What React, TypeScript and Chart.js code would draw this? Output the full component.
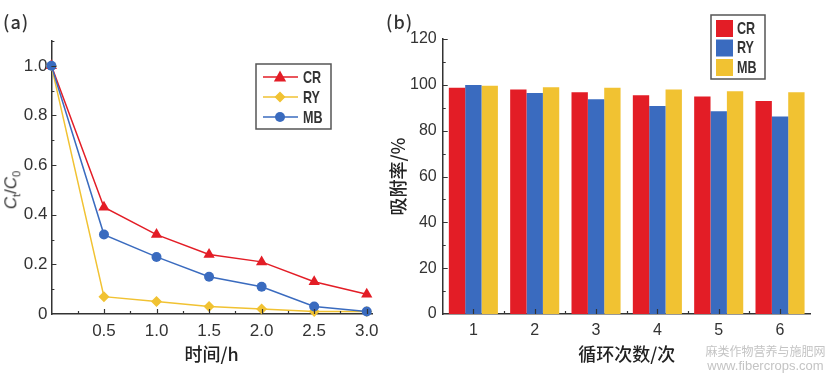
import React, { useEffect, useRef } from 'react';
import { Chart, registerables } from 'chart.js';
Chart.register(...registerables);

// ---------- data ----------
const timeH = [0, 0.5, 1.0, 1.5, 2.0, 2.5, 3.0];
const crRatio = [1.0, 0.43, 0.32, 0.24, 0.21, 0.13, 0.08];
const ryRatio = [1.0, 0.07, 0.05, 0.03, 0.02, 0.01, 0.01];
const mbRatio = [1.0, 0.32, 0.23, 0.15, 0.11, 0.03, 0.01];
const xTicksA = [0.5, 1.0, 1.5, 2.0, 2.5, 3.0];
const yTicksA = [0, 0.2, 0.4, 0.6, 0.8, 1.0];

const cycles = ['1', '2', '3', '4', '5', '6'];
const crRate = [98.7, 98.0, 96.8, 95.5, 94.9, 93.0];
const ryRate = [99.9, 96.4, 93.7, 90.8, 88.5, 86.2];
const mbRate = [99.6, 99.0, 98.7, 98.0, 97.2, 96.8];
const yTicksB = [0, 20, 40, 60, 80, 100, 120];
const seriesNames = ['CR', 'RY', 'MB'];

// ---------- style ----------
const RED = '#e31d26';
const BLUE = '#3a6bbf';
const YELLOW = '#f1c232';
const INK = '#333333';
const LATIN = '"Liberation Sans", Arial, sans-serif';
const CJK = '"Noto Sans CJK SC", "Noto Sans", sans-serif';
const seriesColors = [RED, YELLOW, BLUE];
const barColors = [RED, BLUE, YELLOW];

function drawMarker(ctx: CanvasRenderingContext2D, style: string, x: number, y: number, r: number) {
  ctx.beginPath();
  if (style === 'triangle') {
    ctx.moveTo(x, y - r);
    ctx.lineTo(x + r * 0.95, y + r * 0.7);
    ctx.lineTo(x - r * 0.95, y + r * 0.7);
    ctx.closePath();
  } else if (style === 'rectRot') {
    ctx.moveTo(x, y - r);
    ctx.lineTo(x + r, y);
    ctx.lineTo(x, y + r);
    ctx.lineTo(x - r, y);
    ctx.closePath();
  } else {
    ctx.arc(x, y, r, 0, Math.PI * 2);
  }
  ctx.fill();
}

function drawNarrowText(ctx: CanvasRenderingContext2D, text: string, x: number, y: number) {
  ctx.save();
  ctx.translate(x, y);
  ctx.scale(0.74, 1);
  ctx.fillStyle = INK;
  ctx.font = 'bold 17px ' + LATIN;
  ctx.textBaseline = 'middle';
  ctx.textAlign = 'left';
  ctx.fillText(text, 0, 0);
  ctx.restore();
}

const ticksPluginA = {
  id: 'ticksA',
  afterDatasetsDraw(chart: any) {
    const { ctx, chartArea: ca, scales } = chart;
    const x = scales.x;
    const y = scales.y;
    ctx.save();
    ctx.strokeStyle = INK;
    ctx.lineWidth = 1.2;
    ctx.beginPath();
    for (let i = 1; i <= 11; i++) {
      const py = Math.round(y.getPixelForValue(i / 10)) + 0.5;
      const len = i % 2 === 0 ? 5 : 3;
      ctx.moveTo(ca.left, py);
      ctx.lineTo(ca.left + len, py);
    }
    for (let i = 1; i <= 12; i++) {
      const px = Math.round(x.getPixelForValue(i * 0.25)) + 0.5;
      const len = i % 2 === 0 ? 5 : 3;
      ctx.moveTo(px, ca.bottom);
      ctx.lineTo(px, ca.bottom - len);
    }
    ctx.stroke();

    // legend
    const bx = 256, by = 64, bw = 75, bh = 65;
    ctx.strokeStyle = '#555555';
    ctx.lineWidth = 1.5;
    ctx.strokeRect(bx, by, bw, bh);
    const styles = ['triangle', 'rectRot', 'circle'];
    const radii = [6.5, 5.5, 5];
    seriesNames.forEach((name, i) => {
      const cy = by + 13 + i * 20;
      ctx.strokeStyle = seriesColors[i];
      ctx.fillStyle = seriesColors[i];
      ctx.lineWidth = 1.5;
      ctx.beginPath();
      ctx.moveTo(bx + 7, cy);
      ctx.lineTo(bx + 42, cy);
      ctx.stroke();
      drawMarker(ctx, styles[i], bx + 24, cy, radii[i]);
      drawNarrowText(ctx, name, bx + 47, cy + 1);
    });
    ctx.restore();
  },
};

const ticksPluginB = {
  id: 'ticksB',
  afterDatasetsDraw(chart: any) {
    const { ctx, chartArea: ca, scales } = chart;
    const x = scales.x;
    const y = scales.y;
    ctx.save();
    ctx.strokeStyle = INK;
    ctx.lineWidth = 1.2;
    ctx.beginPath();
    for (let v = 10; v <= 120; v += 10) {
      const py = Math.round(y.getPixelForValue(v)) + 0.5;
      const len = v % 20 === 0 ? 5 : 3;
      ctx.moveTo(ca.left, py);
      ctx.lineTo(ca.left + len, py);
    }
    cycles.forEach((_, i) => {
      const px = Math.round(x.getPixelForValue(i)) + 0.5;
      ctx.moveTo(px, ca.bottom);
      ctx.lineTo(px, ca.bottom - 5);
      if (i > 0) {
        const pb = Math.round((x.getPixelForValue(i) + x.getPixelForValue(i - 1)) / 2) + 0.5;
        ctx.moveTo(pb, ca.bottom);
        ctx.lineTo(pb, ca.bottom - 3);
      }
    });
    ctx.stroke();

    // legend
    const off = chart.canvas.offsetLeft;
    const bx = 711 - off, by = 15, bw = 54, bh = 64;
    ctx.strokeStyle = '#555555';
    ctx.lineWidth = 1.5;
    ctx.strokeRect(bx, by, bw, bh);
    seriesNames.forEach((name, i) => {
      const top = by + 5 + i * 19.5;
      ctx.fillStyle = barColors[i];
      ctx.fillRect(bx + 5, top, 17, 17);
      drawNarrowText(ctx, name, bx + 26, top + 9);
    });
    ctx.restore();
  },
};

const CANVAS_B_LEFT = 383;

export default function App() {
  const refA = useRef<HTMLCanvasElement>(null);
  const refB = useRef<HTMLCanvasElement>(null);

  useEffect(() => {
    const mk = (data: number[]) => timeH.map((t, i) => ({ x: t, y: data[i] }));
    const chartA = new Chart(refA.current!, {
      type: 'line',
      data: {
        datasets: [
          { label: 'CR', data: mk(crRatio), borderColor: RED, backgroundColor: RED, pointStyle: 'triangle', pointRadius: 6.5, pointBorderWidth: 0, borderWidth: 1.5, order: 2, clip: false } as any,
          { label: 'RY', data: mk(ryRatio), borderColor: YELLOW, backgroundColor: YELLOW, pointStyle: 'rectRot', pointRadius: 5.5, pointBorderWidth: 0, borderWidth: 1.5, order: 3, clip: false } as any,
          { label: 'MB', data: mk(mbRatio), borderColor: BLUE, backgroundColor: BLUE, pointStyle: 'circle', pointRadius: 5, pointBorderWidth: 0, borderWidth: 1.5, order: 1, clip: false } as any,
        ],
      },
      options: {
        animation: false,
        responsive: false,
        devicePixelRatio: 1,
        layout: { padding: { left: 0, right: 28, top: 41, bottom: 0 } },
        plugins: { legend: { display: false }, tooltip: { enabled: false } },
        scales: {
          x: {
            type: 'linear', min: 0, max: 3.05,
            grid: { display: false, drawTicks: false },
            border: { display: true, color: INK, width: 1.5 },
            afterBuildTicks: (s: any) => { s.ticks = xTicksA.map((v) => ({ value: v })); },
            afterFit: (s: any) => { s.height = 63; },
            ticks: { padding: 7, color: INK, font: { size: 17, family: LATIN }, maxRotation: 0, autoSkip: false, callback: (v: any) => Number(v).toFixed(1) },
            title: { display: true, text: '时间/h', color: '#222222', font: { size: 18, family: CJK, weight: '500' }, padding: { top: 0, bottom: 12 } },
          },
          y: {
            type: 'linear', min: 0, max: 1.1,
            grid: { display: false, drawTicks: false },
            border: { display: true, color: INK, width: 1.5 },
            afterBuildTicks: (s: any) => { s.ticks = yTicksA.map((v) => ({ value: v })); },
            afterFit: (s: any) => { s.width = 51.4; },
            ticks: { padding: 4, color: INK, font: { size: 17, family: LATIN }, autoSkip: false, callback: (v: any) => (Number(v) === 0 ? '0' : Number(v).toFixed(1)) },
          },
        },
      },
      plugins: [ticksPluginA],
    } as any);

    const chartB = new Chart(refB.current!, {
      type: 'bar',
      data: {
        labels: cycles,
        datasets: [
          { label: 'CR', data: crRate, backgroundColor: RED },
          { label: 'RY', data: ryRate, backgroundColor: BLUE },
          { label: 'MB', data: mbRate, backgroundColor: YELLOW },
        ],
      },
      options: {
        animation: false,
        responsive: false,
        devicePixelRatio: 1,
        layout: { padding: { left: 0, right: 830 - 810.7, top: 39, bottom: 0 } },
        datasets: { bar: { categoryPercentage: 0.8, barPercentage: 1.0 } },
        plugins: { legend: { display: false }, tooltip: { enabled: false } },
        scales: {
          x: {
            grid: { display: false, drawTicks: false },
            border: { display: true, color: INK, width: 1.5 },
            afterFit: (s: any) => { s.height = 63; },
            ticks: { padding: 7, color: INK, font: { size: 16, family: LATIN }, maxRotation: 0 },
            title: { display: true, text: '循环次数/次', color: '#222222', font: { size: 18, family: CJK, weight: '500' }, padding: { top: 0, bottom: 12 } },
          },
          y: {
            min: 0, max: 120,
            grid: { display: false, drawTicks: false },
            border: { display: true, color: INK, width: 1.5 },
            afterBuildTicks: (s: any) => { s.ticks = yTicksB.map((v) => ({ value: v })); },
            afterFit: (s: any) => { s.width = 442.7 - CANVAS_B_LEFT; },
            ticks: { padding: 6, color: INK, font: { size: 16, family: LATIN }, autoSkip: false },
            title: { display: true, text: '吸附率/%', color: '#222222', font: { size: 18, family: CJK, weight: '500' }, padding: { top: 4, bottom: 0 } },
          },
        },
      },
      plugins: [ticksPluginB],
    } as any);

    return () => {
      chartA.destroy();
      chartB.destroy();
    };
  }, []);

  return (
    <div style={{ position: 'fixed', left: 0, top: 0, width: 830, height: 377, background: '#ffffff', overflow: 'hidden' }}>
      <canvas ref={refA} width={400} height={377} style={{ position: 'absolute', left: 0, top: 0 }} />
      <canvas ref={refB} width={830 - CANVAS_B_LEFT} height={377} style={{ position: 'absolute', left: CANVAS_B_LEFT, top: 0 }} />
      <div style={{ position: 'absolute', left: 3, top: 10, fontFamily: CJK, fontSize: 18, fontWeight: 500, color: INK, lineHeight: '22px', letterSpacing: 1 }}>(a)</div>
      <div style={{ position: 'absolute', left: 386, top: 10, fontFamily: CJK, fontSize: 18, fontWeight: 500, color: INK, lineHeight: '22px', letterSpacing: 1 }}>(b)</div>
      <div
        style={{
          position: 'absolute', left: 14, top: 190, transform: 'translate(-50%, -50%) rotate(-90deg)',
          fontFamily: LATIN, fontSize: 17, color: INK, whiteSpace: 'nowrap', lineHeight: '20px',
        }}
      >
        <i>C</i><sub style={{ fontSize: 11 }}>t</sub>/<i>C</i><sub style={{ fontSize: 11 }}>0</sub>
      </div>
      <div style={{ position: 'absolute', left: 705, top: 344, width: 121, textAlign: 'center', fontFamily: CJK, fontSize: 12, color: '#c4c4c4', lineHeight: '14px', whiteSpace: 'nowrap' }}>
        麻类作物营养与施肥网
      </div>
      <div style={{ position: 'absolute', left: 705, top: 358, width: 121, textAlign: 'center', fontFamily: LATIN, fontSize: 13, color: '#c4c4c4', lineHeight: '15px', whiteSpace: 'nowrap' }}>
        www.fibercrops.com
      </div>
    </div>
  );
}
